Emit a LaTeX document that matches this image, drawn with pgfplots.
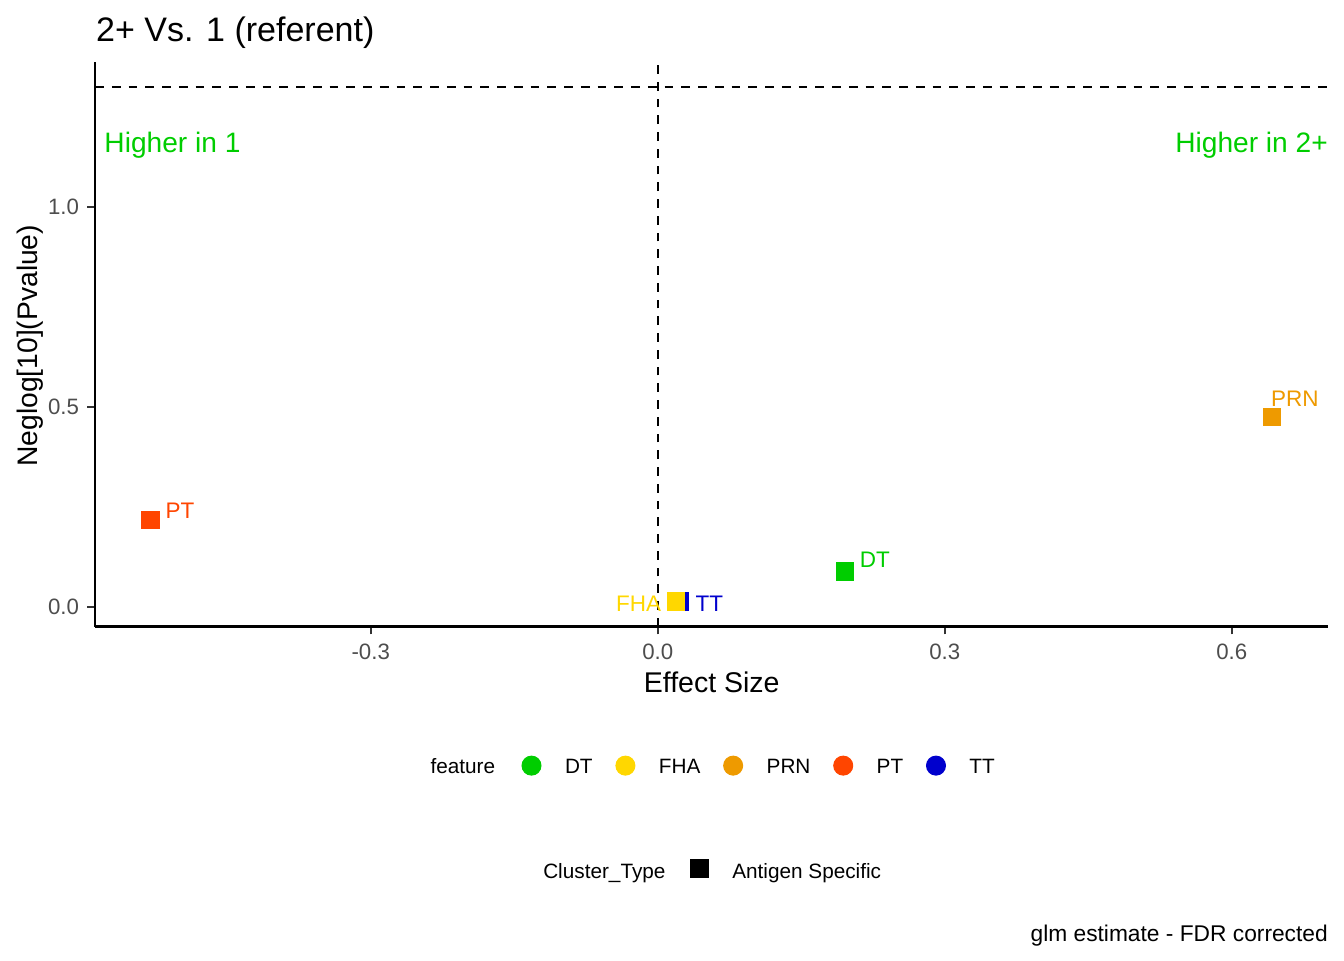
\documentclass[border=0pt]{standalone}
\usepackage{fontspec}
\setmainfont{Liberation Sans}
\usepackage{pgfplots}
\pgfplotsset{compat=1.18}
\definecolor{cDT}{HTML}{00CD00}
\definecolor{cFHA}{HTML}{FFD700}
\definecolor{cPRN}{HTML}{EE9A00}
\definecolor{cPT}{HTML}{FF4500}
\definecolor{cTT}{HTML}{0000CD}
\definecolor{g30}{HTML}{4D4D4D}
\definecolor{g20}{HTML}{333333}
\newcommand{\lfont}{\fontsize{8.3}{10}\selectfont}
\begin{document}
\begin{tikzpicture}
\useasboundingbox (-38pt,-133.4pt) rectangle (499.6pt,250.6pt);
\begin{axis}[
  at={(0pt,0pt)}, anchor=south west,
  scale only axis, width=493.2pt, height=225.8pt,
  xmin=-0.5882, xmax=0.7006, ymin=-0.0496, ymax=1.3638,
  axis lines*=left, axis line style={-, line width=0.9pt, black},
  clip=false,
  xtick={-0.3,0,0.3,0.6}, xticklabels={-0.3,0.0,0.3,0.6},
  ytick={0,0.5,1}, yticklabels={0.0,0.5,1.0},
  tick align=outside, major tick length=3.1pt,
  tick style={g20, line width=0.9pt},
  ticklabel style={font=\fontsize{8.9}{10}\selectfont, text=g30, inner sep=0pt},
  xticklabel style={anchor=north, yshift=-3.8pt},
  yticklabel style={anchor=east, xshift=-3.1pt},
  legend columns=-1,
  legend style={at={(0.3455,-0.2513)}, anchor=west, draw=none, fill=none,
    inner sep=0pt, font=\lfont, column sep=0pt,
    /tikz/every odd column/.append style={column sep=7.4pt},
    /tikz/every even column/.append style={column sep=7.1pt}},
]
\addplot[no marks, black, line width=0.8pt, dash pattern=on 3.5pt off 3.2pt, forget plot] coordinates {(0,-0.0496) (0,1.3638)};
\addplot[no marks, black, line width=0.8pt, dash pattern=on 3.5pt off 3.2pt, forget plot] coordinates {(-0.5882,1.30103) (0.7006,1.30103)};
\addplot[only marks, mark=square*, mark size=3.5pt, color=cDT, forget plot] coordinates {(0.196,0.0886)};
\addplot[only marks, mark=square*, mark size=3.5pt, color=cPRN, forget plot] coordinates {(0.642,0.475)};
\addplot[only marks, mark=square*, mark size=3.5pt, color=cPT, forget plot] coordinates {(-0.530,0.217)};
\addplot[only marks, mark=square*, mark size=3.5pt, color=cTT, forget plot] coordinates {(0.0233,0.0135)};
\addplot[only marks, mark=square*, mark size=3.5pt, color=cFHA, forget plot] coordinates {(0.0191,0.0135)};
\addlegendimage{legend image code/.code={\fill[cDT] (0pt,1.1pt) circle[radius=3.8pt];}}
\addlegendentry{DT}
\addlegendimage{legend image code/.code={\fill[cFHA] (0pt,1.1pt) circle[radius=3.8pt];}}
\addlegendentry{FHA}
\addlegendimage{legend image code/.code={\fill[cPRN] (0pt,1.1pt) circle[radius=3.8pt];}}
\addlegendentry{PRN}
\addlegendimage{legend image code/.code={\fill[cPT] (0pt,1.1pt) circle[radius=3.8pt];}}
\addlegendentry{PT}
\addlegendimage{legend image code/.code={\fill[cTT] (0pt,1.1pt) circle[radius=3.8pt];}}
\addlegendentry{TT}
\begin{scope}[every node/.style={inner sep=0pt, font=\fontsize{9}{11}\selectfont}]
\node[anchor=base west, text=cPT] at (axis cs:-0.515,0.2213) {PT};
\node[anchor=base west, text=cDT] at (axis cs:0.2107,0.0986) {DT};
\node[anchor=base east, text=cFHA] at (axis cs:0.0042,-0.0125) {FHA};
\node[anchor=base west, text=cTT] at (axis cs:0.039,-0.0125) {TT};
\node[anchor=base west, text=cPRN] at (axis cs:0.6407,0.5008) {PRN};
\end{scope}
\node[anchor=base west, inner sep=0pt, text=cDT, font=\fontsize{11.25}{13}\selectfont] at (axis cs:-0.5788,1.1367) {Higher in 1};
\node[anchor=base east, inner sep=0pt, text=cDT, font=\fontsize{11.25}{13}\selectfont] at (axis cs:0.7009,1.1367) {Higher in 2+};
\end{axis}
\begin{axis}[
  at={(0pt,0pt)}, anchor=south west,
  scale only axis, width=493.2pt, height=225.8pt,
  hide axis, xmin=0, xmax=1, ymin=0, ymax=1,
  legend columns=-1,
  legend style={at={(0.482,-0.437)}, anchor=west, draw=none, fill=none,
    inner sep=0pt, font=\lfont,
    /tikz/every odd column/.append style={column sep=7.2pt}},
]
\addlegendimage{legend image code/.code={\fill[black] (-3.7pt,-1.9pt) rectangle (3.7pt,5.5pt);}}
\addlegendentry{Antigen Specific}
\end{axis}
\node[anchor=base west, inner sep=0pt, font=\lfont] at (134pt,-58.7pt) {feature};
\node[anchor=base west, inner sep=0pt, font=\lfont] at (179.1pt,-100.7pt) {Cluster\_Type};
\node[anchor=base west, inner sep=0pt, font=\fontsize{13.6}{16}\selectfont] at (0.3pt,234pt) {2+ Vs. 1 (referent)};
\node[anchor=base, inner sep=0pt, font=\fontsize{11.4}{13}\selectfont] at (246.7pt,-26.5pt) {Effect Size};
\node[rotate=90, anchor=center, inner sep=0pt, font=\fontsize{11.3}{13}\selectfont] at (-26pt,112.3pt) {Neglog[10](Pvalue)};
\node[anchor=base east, inner sep=0pt, font=\fontsize{9.1}{11}\selectfont] at (493.3pt,-125.8pt) {glm estimate - FDR corrected};
\end{tikzpicture}
\end{document}
